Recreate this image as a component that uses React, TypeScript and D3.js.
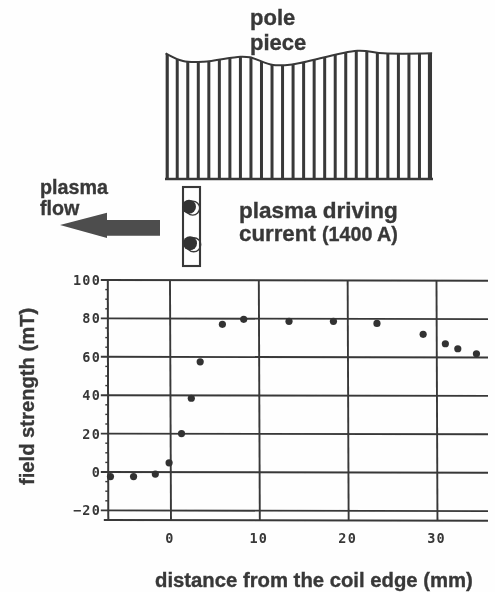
import React from "react";
import * as d3 from "d3";

const distanceMm = [-6.7, -4.1, -1.65, -0.1, 1.3, 2.4, 3.4, 5.9, 8.3, 13.4, 18.4, 23.3, 28.5, 31, 32.4, 34.5];
const fieldMt = [-2.4, -2.4, -1.1, 4.8, 20, 38.4, 57.4, 76.9, 79.5, 78.5, 78.5, 77.4, 71.7, 66.8, 64.2, 61.6];

const yTicks = [100, 80, 60, 40, 20, 0, -20];
const yMinorTicks = [95, 90, 85, 75, 70, 65, 55, 50, 45, 35, 30, 25, 15, 10, 5, -5, -10, -15];
const xTicks = [0, 10, 20, 30];

// pole piece sketch: top edge profile along the stripes
const poleStripes = d3.range(0, 26);
const poleEdgeAt = [-0.1, 1.55, 3.5, 7, 7.9, 10.1, 12, 18.1, 20.6, 25.2];
const poleEdgeHeight = [125.7, 118, 117.3, 122.3, 121.7, 114, 114.7, 128.3, 125.7, 125.7];

const ink = "#383838";
const sans = "'Liberation Sans', Arial, sans-serif";
const mono = "'DejaVu Sans Mono', monospace";

const x = d3.scaleLinear().domain([-7, 35.8]).range([107.8, 488]);
const y = d3.scaleLinear().domain([-25, 100]).range([520, 280]);

const poleX = d3.scaleLinear().domain([0, 25]).range([166.7, 430]);
const poleY = d3.scaleLinear().domain([0, 179]).range([179, 0]);

const poleEdge = d3.line<number>()
  .x(d => poleX(d))
  .y((d, i) => poleY(poleEdgeHeight[i]))
  .curve(d3.curveCatmullRom);

const poleArea = d3.area<number>()
  .x(d => poleX(d))
  .y0(poleY(0))
  .y1((d, i) => poleY(poleEdgeHeight[i]))
  .curve(d3.curveCatmullRom);

const arrow = d3.line()([[60, 225], [107, 212.7], [107, 220], [160, 220], [160, 235.7], [107, 235.7], [107, 238]]) + "Z";

export default function App() {
  return (
    <svg width={495} height={592} style={{ position: "absolute", left: 0, top: 0, display: "block" }}>
      <defs>
        <filter id="scan" x="-2%" y="-2%" width="104%" height="104%">
          <feGaussianBlur stdDeviation="0.45" />
        </filter>
        <clipPath id="poleClip">
          <path d={poleArea(poleEdgeAt) || ""} />
        </clipPath>
      </defs>
      <rect width={495} height={592} fill="#fefefe" />

      <g filter="url(#scan)">
        {/* pole piece */}
        <g clipPath="url(#poleClip)">
          {poleStripes.map(s => (
            <line key={s} x1={poleX(s)} x2={poleX(s)} y1={40} y2={180}
              stroke={ink} strokeWidth={s === 0 || s === 25 ? 4.2 : 3} />
          ))}
        </g>
        <path d={poleEdge(poleEdgeAt) || ""} fill="none" stroke={ink} strokeWidth={2} />
        <line x1={165} x2={433} y1={179} y2={179} stroke={ink} strokeWidth={2.6} />

        {/* coil cross-section */}
        <rect x={183} y={187} width={17} height={79} fill="none" stroke={ink} strokeWidth={2.1} />
        {[[189, 206.7], [190, 243.3]].map(([cx, cy]) => (
          <g key={cy}>
            <circle cx={cx + 3.7} cy={cy + 1.4} r={7} fill="none" stroke={ink} strokeWidth={1.4} />
            <circle cx={cx} cy={cy} r={7} fill="#333" />
          </g>
        ))}

        <path d={arrow} fill="#4d4d4d" />

        {/* plot */}
        {yTicks.map(t => (
          <line key={t} x1={x(-7) - 7} x2={x(35.8)} y1={y(t)} y2={y(t) + 0.7} stroke={ink} strokeWidth={1.9} />
        ))}
        <line x1={x(-7) - 4} x2={x(35.8)} y1={y(-25)} y2={y(-25) + 0.7} stroke={ink} strokeWidth={1.9} />
        <line x1={x(-7)} x2={x(-7) + 0.5} y1={y(100)} y2={y(-25)} stroke={ink} strokeWidth={2} />
        {yMinorTicks.map(t => (
          <line key={t} x1={x(-7) - 2.5} x2={x(-7)} y1={y(t)} y2={y(t)} stroke={ink} strokeWidth={1.4} />
        ))}
        {xTicks.map(t => (
          <line key={t} x1={x(t)} x2={x(t) + 1} y1={y(100)} y2={y(-25)} stroke={ink} strokeWidth={1.9} />
        ))}

        {distanceMm.map((d, i) => (
          <circle key={d} cx={x(d)} cy={y(fieldMt[i])} r={3.6} fill="#333" />
        ))}

        {/* tick labels */}
        <g fontFamily={mono} fontWeight={700} fontSize={13.5} fill={ink} letterSpacing={1.2}>
          {yTicks.map(t => (
            <text key={t} x={101} y={y(t) + 5} textAnchor="end">
              {t < 0 ? "\u2212" + Math.abs(t) : t}
            </text>
          ))}
          {xTicks.map(t => (
            <text key={t} x={x(t)} y={543} textAnchor="middle">{t}</text>
          ))}
        </g>

        {/* labels */}
        <g fontFamily={sans} fontWeight={700} fill={ink} stroke={ink} strokeWidth={0.35}>
          <text x={250} y={25} fontSize={22}>pole</text>
          <text x={250} y={50} fontSize={22}>piece</text>
          <text x={40} y={194} fontSize={19.7}>plasma</text>
          <text x={40} y={215} fontSize={19.7}>flow</text>
          <text x={239} y={218} fontSize={22.5}>plasma driving</text>
          <text x={239} y={241} fontSize={22.3}>current</text>
          <text x={322} y={241} fontSize={19.7}>(1400 A)</text>
          <text x={155} y={587} fontSize={20.3}>distance from the coil edge (mm)</text>
          <text transform="translate(34,485) rotate(-90)" fontSize={20.2}>field strength (mT)</text>
        </g>
      </g>
    </svg>
  );
}
